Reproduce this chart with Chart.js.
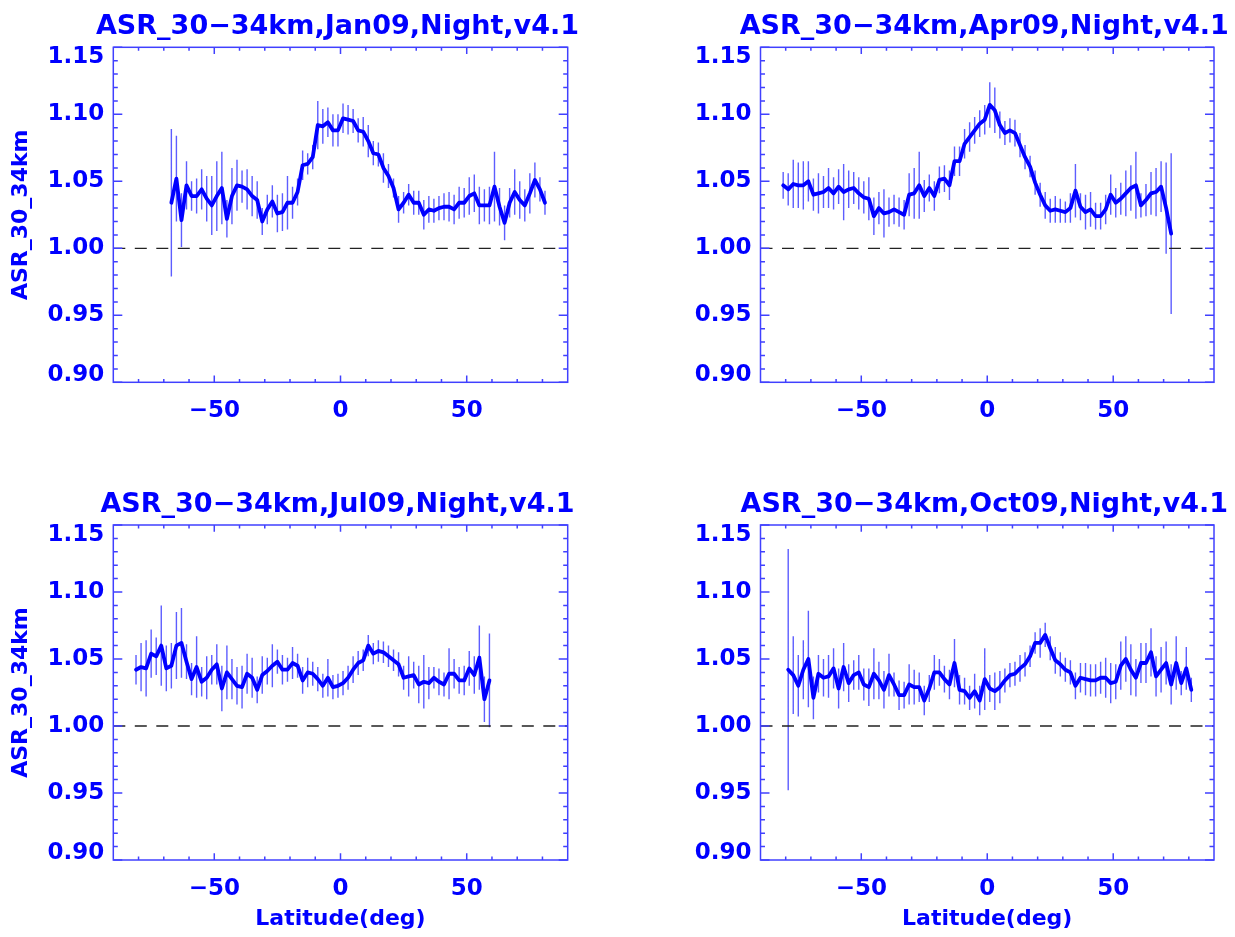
<!DOCTYPE html>
<html>
<head>
<meta charset="utf-8">
<script src="https://cdn.jsdelivr.net/npm/chart.js@4.4.1/dist/chart.umd.min.js"></script>
<style>
  html, body { margin: 0; padding: 0; background: #fff; }
  #wrap { position: relative; width: 1235px; height: 937px; }
  canvas { position: absolute; }
</style>
</head>
<body>
<div id="wrap">
  <canvas id="c1" width="617" height="468" style="left:0;top:0;width:617px;height:468px"></canvas>
  <canvas id="c2" width="618" height="468" style="left:617px;top:0;width:618px;height:468px"></canvas>
  <canvas id="c3" width="617" height="469" style="left:0;top:468px;width:617px;height:469px"></canvas>
  <canvas id="c4" width="618" height="469" style="left:617px;top:468px;width:618px;height:469px"></canvas>
</div>
<script>
// axis ticks
const latLabels = [-50, 0, 50];
const latMinor = [-80, -70, -60, -40, -30, -20, -10, 10, 20, 30, 40, 60, 70, 80];
const ratioLabels = [0.90, 0.95, 1.00, 1.05, 1.10, 1.15];
const ratioMinor = [0.91, 0.92, 0.93, 0.94, 0.96, 0.97, 0.98, 0.99, 1.01, 1.02, 1.03, 1.04,
                    1.06, 1.07, 1.08, 1.09, 1.11, 1.12, 1.13, 1.14];

// Jan09
const janLat = [-67, -65, -63, -61, -59, -57, -55, -53, -51, -49, -47, -45, -43, -41, -39, -37, -35, -33, -31, -29,
  -27, -25, -23, -21, -19, -17, -15, -13, -11, -9, -7, -5, -3, -1, 1, 3, 5, 7, 9, 11,
  13, 15, 17, 19, 21, 23, 25, 27, 29, 31, 33, 35, 37, 39, 41, 43, 45, 47, 49, 51,
  53, 55, 57, 59, 61, 63, 65, 67, 69, 71, 73, 75, 77, 79, 81];
const janAsr = [1.034, 1.052, 1.021, 1.047, 1.039, 1.039, 1.044, 1.037, 1.032, 1.039, 1.045, 1.022, 1.039, 1.047, 1.046, 1.044, 1.039, 1.036, 1.020, 1.029,
  1.035, 1.026, 1.027, 1.034, 1.034, 1.042, 1.062, 1.063, 1.068, 1.092, 1.091, 1.094, 1.088, 1.088, 1.097, 1.096, 1.095, 1.088, 1.087, 1.080,
  1.071, 1.070, 1.060, 1.054, 1.045, 1.029, 1.034, 1.040, 1.034, 1.034, 1.025, 1.029, 1.028, 1.030, 1.031, 1.031, 1.029, 1.034, 1.034, 1.039,
  1.041, 1.032, 1.032, 1.032, 1.046, 1.031, 1.019, 1.034, 1.042, 1.036, 1.032, 1.041, 1.051, 1.044, 1.034];
const janErr = [0.055, 0.032, 0.020, 0.018, 0.011, 0.013, 0.015, 0.017, 0.022, 0.026, 0.027, 0.014, 0.021, 0.019, 0.012, 0.015, 0.015, 0.014, 0.010, 0.011,
  0.012, 0.014, 0.014, 0.020, 0.012, 0.010, 0.011, 0.008, 0.009, 0.018, 0.013, 0.011, 0.012, 0.012, 0.011, 0.011, 0.009, 0.009, 0.011, 0.012,
  0.009, 0.009, 0.011, 0.009, 0.007, 0.010, 0.008, 0.008, 0.009, 0.009, 0.011, 0.010, 0.009, 0.009, 0.010, 0.011, 0.011, 0.012, 0.011, 0.014,
  0.014, 0.014, 0.012, 0.014, 0.026, 0.014, 0.013, 0.011, 0.017, 0.014, 0.012, 0.015, 0.013, 0.009, 0.009];

// Apr09
const aprLat = [-81, -79, -77, -75, -73, -71, -69, -67, -65, -63, -61, -59, -57, -55, -53, -51, -49, -47, -45, -43,
  -41, -39, -37, -35, -33, -31, -29, -27, -25, -23, -21, -19, -17, -15, -13, -11, -9, -7, -5, -3,
  -1, 1, 3, 5, 7, 9, 11, 13, 15, 17, 19, 21, 23, 25, 27, 29, 31, 33, 35, 37,
  39, 41, 43, 45, 47, 49, 51, 53, 55, 57, 59, 61, 63, 65, 67, 69, 71, 73];
const aprAsr = [1.047, 1.044, 1.048, 1.047, 1.047, 1.050, 1.040, 1.041, 1.042, 1.045, 1.041, 1.046, 1.042, 1.044, 1.045, 1.041, 1.038, 1.037, 1.024, 1.030,
  1.026, 1.027, 1.029, 1.027, 1.025, 1.040, 1.041, 1.047, 1.039, 1.045, 1.039, 1.051, 1.052, 1.047, 1.065, 1.065, 1.078, 1.083, 1.088, 1.093,
  1.096, 1.107, 1.103, 1.092, 1.086, 1.088, 1.086, 1.077, 1.068, 1.061, 1.049, 1.040, 1.032, 1.028, 1.029, 1.028, 1.027, 1.030, 1.043, 1.031,
  1.027, 1.029, 1.024, 1.024, 1.029, 1.040, 1.034, 1.037, 1.041, 1.045, 1.047, 1.032, 1.036, 1.041, 1.042, 1.046, 1.030, 1.011];
const aprErr = [0.010, 0.012, 0.018, 0.017, 0.018, 0.015, 0.012, 0.015, 0.012, 0.015, 0.012, 0.013, 0.021, 0.014, 0.012, 0.012, 0.012, 0.016, 0.014, 0.012,
  0.018, 0.011, 0.011, 0.011, 0.011, 0.016, 0.019, 0.025, 0.012, 0.010, 0.011, 0.010, 0.010, 0.011, 0.011, 0.011, 0.011, 0.011, 0.010, 0.010,
  0.011, 0.017, 0.017, 0.010, 0.009, 0.009, 0.010, 0.009, 0.009, 0.008, 0.009, 0.009, 0.010, 0.009, 0.010, 0.009, 0.008, 0.011, 0.020, 0.010,
  0.013, 0.013, 0.010, 0.010, 0.011, 0.015, 0.011, 0.012, 0.017, 0.017, 0.025, 0.009, 0.012, 0.016, 0.018, 0.019, 0.034, 0.060];

// Jul09
const julLat = [-81, -79, -77, -75, -73, -71, -69, -67, -65, -63, -61, -59, -57, -55, -53, -51, -49, -47, -45, -43,
  -41, -39, -37, -35, -33, -31, -29, -27, -25, -23, -21, -19, -17, -15, -13, -11, -9, -7, -5, -3,
  -1, 1, 3, 5, 7, 9, 11, 13, 15, 17, 19, 21, 23, 25, 27, 29, 31, 33, 35, 37,
  39, 41, 43, 45, 47, 49, 51, 53, 55, 57, 59];
const julAsr = [1.042, 1.044, 1.043, 1.054, 1.052, 1.060, 1.043, 1.045, 1.060, 1.062, 1.048, 1.035, 1.044, 1.033, 1.036, 1.042, 1.046, 1.028, 1.040, 1.035,
  1.030, 1.029, 1.039, 1.036, 1.027, 1.038, 1.041, 1.045, 1.048, 1.042, 1.042, 1.047, 1.045, 1.034, 1.040, 1.039, 1.035, 1.030, 1.036, 1.029,
  1.030, 1.032, 1.036, 1.042, 1.047, 1.049, 1.060, 1.054, 1.056, 1.055, 1.052, 1.049, 1.046, 1.036, 1.037, 1.038, 1.031, 1.033, 1.032, 1.036,
  1.033, 1.031, 1.039, 1.039, 1.034, 1.034, 1.043, 1.038, 1.051, 1.020, 1.034];
const julErr = [0.011, 0.018, 0.021, 0.018, 0.014, 0.030, 0.017, 0.017, 0.025, 0.026, 0.013, 0.012, 0.023, 0.011, 0.016, 0.011, 0.015, 0.017, 0.020, 0.015,
  0.014, 0.016, 0.015, 0.015, 0.010, 0.014, 0.010, 0.016, 0.009, 0.011, 0.009, 0.012, 0.009, 0.010, 0.011, 0.009, 0.009, 0.009, 0.014, 0.009,
  0.009, 0.009, 0.009, 0.010, 0.009, 0.008, 0.008, 0.008, 0.008, 0.008, 0.008, 0.008, 0.009, 0.009, 0.015, 0.010, 0.014, 0.020, 0.012, 0.008,
  0.010, 0.009, 0.019, 0.011, 0.010, 0.011, 0.013, 0.014, 0.024, 0.017, 0.035];

// Oct09
const octLat = [-79, -77, -75, -73, -71, -69, -67, -65, -63, -61, -59, -57, -55, -53, -51, -49, -47, -45, -43, -41,
  -39, -37, -35, -33, -31, -29, -27, -25, -23, -21, -19, -17, -15, -13, -11, -9, -7, -5, -3, -1,
  1, 3, 5, 7, 9, 11, 13, 15, 17, 19, 21, 23, 25, 27, 29, 31, 33, 35, 37, 39,
  41, 43, 45, 47, 49, 51, 53, 55, 57, 59, 61, 63, 65, 67, 69, 71, 73, 75, 77, 79, 81];
const octAsr = [1.042, 1.038, 1.030, 1.042, 1.050, 1.021, 1.039, 1.036, 1.037, 1.043, 1.028, 1.044, 1.032, 1.038, 1.040, 1.031, 1.029, 1.039, 1.034, 1.027,
  1.038, 1.031, 1.023, 1.023, 1.031, 1.029, 1.029, 1.019, 1.028, 1.040, 1.040, 1.035, 1.031, 1.047, 1.027, 1.026, 1.021, 1.026, 1.019, 1.035,
  1.028, 1.026, 1.029, 1.034, 1.038, 1.039, 1.043, 1.046, 1.052, 1.062, 1.062, 1.068, 1.058, 1.049, 1.046, 1.042, 1.040, 1.030, 1.036, 1.035,
  1.034, 1.034, 1.036, 1.036, 1.032, 1.033, 1.045, 1.050, 1.042, 1.036, 1.047, 1.047, 1.055, 1.037, 1.042, 1.047, 1.031, 1.047, 1.032, 1.043, 1.027];
const octErr = [0.090, 0.029, 0.023, 0.022, 0.036, 0.016, 0.014, 0.014, 0.016, 0.015, 0.015, 0.018, 0.014, 0.011, 0.013, 0.012, 0.014, 0.019, 0.014, 0.014,
  0.016, 0.009, 0.011, 0.010, 0.015, 0.013, 0.011, 0.011, 0.010, 0.013, 0.010, 0.010, 0.011, 0.018, 0.011, 0.010, 0.009, 0.013, 0.011, 0.023,
  0.010, 0.014, 0.012, 0.009, 0.009, 0.009, 0.010, 0.009, 0.008, 0.008, 0.011, 0.009, 0.009, 0.010, 0.009, 0.009, 0.009, 0.010, 0.011, 0.012,
  0.012, 0.012, 0.012, 0.015, 0.015, 0.013, 0.018, 0.017, 0.019, 0.014, 0.015, 0.015, 0.018, 0.015, 0.017, 0.016, 0.015, 0.020, 0.009, 0.016, 0.009];

const FONT = "'DejaVu Sans', sans-serif";
const BLUE = '#0000ff';
const AXIS = '#4040ff';

const panels = [
  { id: 'c1', title: 'ASR_30\u221234km,Jan09,Night,v4.1', lat: janLat, asr: janAsr, err: janErr, yTitle: true,  xTitle: false },
  { id: 'c2', title: 'ASR_30\u221234km,Apr09,Night,v4.1', lat: aprLat, asr: aprAsr, err: aprErr, yTitle: false, xTitle: false },
  { id: 'c3', title: 'ASR_30\u221234km,Jul09,Night,v4.1', lat: julLat, asr: julAsr, err: julErr, yTitle: true,  xTitle: true },
  { id: 'c4', title: 'ASR_30\u221234km,Oct09,Night,v4.1', lat: octLat, asr: octAsr, err: octErr, yTitle: false, xTitle: true }
];

// plot box inside each canvas
const boxes = {
  c1: { left: 113.3, right: 567.7, top: 47.3, bottom: 382.3 },
  c2: { left: 143.5, right: 597, top: 47.3, bottom: 382.3 },
  c3: { left: 113.3, right: 567.7, top: 57, bottom: 392 },
  c4: { left: 143.5, right: 597, top: 57, bottom: 392 }
};

function fmtLat(v) {
  return v < 0 ? '\u2212' + Math.abs(v) : String(v);
}

const idlFrame = {
  id: 'idlFrame',
  beforeDatasetsDraw(chart, args, opts) {
    // error bars
    const ctx = chart.ctx, xs = chart.scales.x, ys = chart.scales.y;
    const p = opts.panel;
    ctx.save();
    ctx.strokeStyle = 'rgba(30,30,255,0.72)';
    ctx.lineWidth = 1.4;
    ctx.beginPath();
    p.lat.forEach((lat, i) => {
      const x = xs.getPixelForValue(lat);
      ctx.moveTo(x, ys.getPixelForValue(p.asr[i] - p.err[i]));
      ctx.lineTo(x, ys.getPixelForValue(p.asr[i] + p.err[i]));
    });
    ctx.stroke();
    ctx.restore();
  },
  afterDatasetsDraw(chart, args, opts) {
    const ctx = chart.ctx, xs = chart.scales.x, ys = chart.scales.y;
    const a = chart.chartArea;
    const p = opts.panel;
    ctx.save();
    ctx.strokeStyle = AXIS;
    ctx.lineWidth = 1.5;
    ctx.strokeRect(a.left, a.top, a.right - a.left, a.bottom - a.top);
    ctx.beginPath();
    const xt = (vals, len) => vals.forEach(v => {
      const x = xs.getPixelForValue(v);
      ctx.moveTo(x, a.bottom); ctx.lineTo(x, a.bottom - len);
      ctx.moveTo(x, a.top); ctx.lineTo(x, a.top + len);
    });
    const yt = (vals, len) => vals.forEach(v => {
      const y = ys.getPixelForValue(v);
      ctx.moveTo(a.left, y); ctx.lineTo(a.left + len, y);
      ctx.moveTo(a.right, y); ctx.lineTo(a.right - len, y);
    });
    xt(latLabels, 6.7);
    xt(latMinor, 3.4);
    yt(ratioLabels, 9);
    yt(ratioMinor, 4.5);
    ctx.stroke();

    // y tick labels (IDL keeps the end labels inside the box height)
    ctx.fillStyle = BLUE;
    ctx.font = 'bold 23px ' + FONT;
    ctx.textAlign = 'right';
    ctx.textBaseline = 'middle';
    ratioLabels.forEach(v => {
      let y = ys.getPixelForValue(v);
      y = Math.min(Math.max(y, a.top + 10), a.bottom - 7);
      ctx.fillText(v.toFixed(2), a.left - 9, y);
    });

    // panel title
    ctx.font = 'bold 27px ' + FONT;
    ctx.textAlign = 'center';
    ctx.textBaseline = 'alphabetic';
    ctx.fillText(p.title, (a.left + a.right) / 2 - 3, a.top - 13);
    ctx.restore();
  }
};

panels.forEach(p => {
  const cv = document.getElementById(p.id);
  const box = boxes[p.id];
  new Chart(cv, {
    type: 'line',
    data: {
      datasets: [
        {
          data: p.lat.map((x, i) => ({ x: x, y: p.asr[i] })),
          borderColor: BLUE,
          borderWidth: 3.8,
          borderJoinStyle: 'round',
          borderCapStyle: 'round',
          pointRadius: 0,
          tension: 0,
          order: 0
        },
        {
          data: [{ x: -90, y: 1 }, { x: 90, y: 1 }],
          borderColor: '#222222',
          borderWidth: 1.3,
          borderDash: [12, 9.5],
          pointRadius: 0,
          order: 1
        }
      ]
    },
    options: {
      responsive: false,
      animation: false,
      devicePixelRatio: 1,
      layout: { padding: { left: 0, top: box.top, right: cv.width - box.right, bottom: 0 } },
      plugins: {
        legend: { display: false },
        tooltip: { enabled: false },
        idlFrame: { panel: p }
      },
      scales: {
        x: {
          type: 'linear',
          min: -90,
          max: 90,
          grid: { display: false, drawTicks: false },
          border: { display: false },
          afterBuildTicks: s => { s.ticks = latLabels.map(v => ({ value: v })); },
          afterFit: s => { s.height = cv.height - box.bottom; },
          ticks: {
            autoSkip: false,
            maxRotation: 0,
            padding: 15,
            color: BLUE,
            font: { family: FONT, size: 23, weight: 'bold' },
            callback: v => fmtLat(v)
          },
          title: {
            display: p.xTitle,
            text: 'Latitude(deg)',
            color: BLUE,
            font: { family: FONT, size: 22, weight: 'bold' },
            padding: { top: 0, bottom: 5 }
          }
        },
        y: {
          type: 'linear',
          min: 0.9,
          max: 1.15,
          grid: { display: false },
          border: { display: false },
          ticks: { display: false },
          afterFit: s => { s.width = box.left; },
          title: {
            display: p.yTitle,
            text: 'ASR_30_34km',
            color: BLUE,
            font: { family: FONT, size: 22, weight: 'bold' },
            padding: { top: 8, bottom: 0 }
          }
        }
      }
    },
    plugins: [idlFrame]
  });
});
</script>
</body>
</html>
